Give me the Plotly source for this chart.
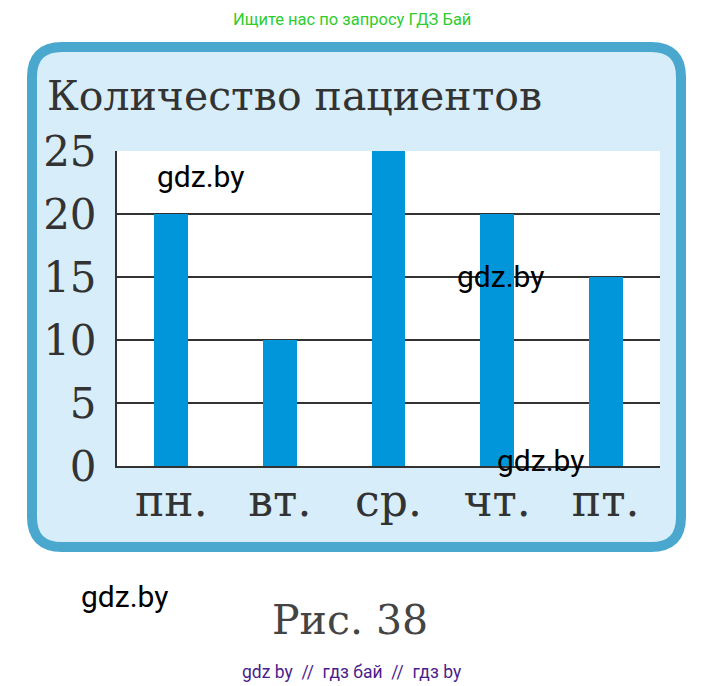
import plotly.graph_objects as go

W, H = 704, 686
OFF = 8  # page body margin shift
def px(x): return (x - OFF) / W
def py(y): return 1 - (y - OFF) / H

days = ["пн.", "вт.", "ср.", "чт.", "пт."]
patients = [20, 10, 25, 20, 15]
y_ticks = [0, 5, 10, 15, 20, 25]
y_tick_labels = ["0", "5", "10", "15", "20", "25"]

title_text = "Количество пациентов"
caption = "Рис. 38"
top_note = "Ищите нас по запросу ГДЗ Бай"
bottom_note = "gdz by  //  гдз бай  //  гдз by"

SERIF = "DejaVu Serif"
DARK = "#333333"

fig = go.Figure()
fig.add_trace(go.Bar(
    x=days, y=patients, width=0.31,
    marker=dict(color="#0096d9", line=dict(width=0)),
    hoverinfo="skip",
))

# rounded frame
x0, x1, y0, y1, r = px(32), px(681), py(547), py(47), 30
rx, ry = r / W, r / H
path = (f"M {x0+rx},{y1} L {x1-rx},{y1} Q {x1},{y1} {x1},{y1-ry} "
        f"L {x1},{y0+ry} Q {x1},{y0} {x1-rx},{y0} L {x0+rx},{y0} "
        f"Q {x0},{y0} {x0},{y0+ry} L {x0},{y1-ry} Q {x0},{y1} {x0+rx},{y1} Z")

shapes = [
    dict(type="path", path=path, xref="paper", yref="paper",
         fillcolor="#d7eefa", line=dict(color="#4aa8cf", width=10), layer="below"),
    dict(type="rect", xref="x domain", yref="y domain", x0=0, x1=1, y0=0, y1=1,
         fillcolor="white", line=dict(width=0), layer="below"),
]

annotations = [
    dict(text=title_text, x=px(45), y=py(96), xref="paper", yref="paper",
         xanchor="left", yanchor="middle", showarrow=False,
         font=dict(family=SERIF, size=41, color=DARK)),
    dict(text=caption, x=px(350), y=py(620), xref="paper", yref="paper",
         xanchor="center", yanchor="middle", showarrow=False,
         font=dict(family=SERIF, size=41, color="#444444")),
    dict(text=top_note, x=px(352), y=py(8), xref="paper", yref="paper",
         xanchor="center", yanchor="top", showarrow=False,
         font=dict(family="Roboto", size=16.5, color="#2ecc2e")),
    dict(text=bottom_note, x=px(352), y=py(672), xref="paper", yref="paper",
         xanchor="center", yanchor="middle", showarrow=False,
         font=dict(family="Roboto", size=17.5, color="#4b1d8c")),
]
for (wx, wy) in [(200, 176), (500, 276), (540, 460), (124, 596)]:
    annotations.append(dict(text="gdz.by", x=px(wx), y=py(wy), xref="paper", yref="paper",
                            xanchor="center", yanchor="middle", showarrow=False,
                            font=dict(family="Roboto", size=30, color="black")))

fig.update_layout(
    width=W, height=H, margin=dict(l=0, r=0, t=0, b=0, autoexpand=False),
    paper_bgcolor="white", plot_bgcolor="white",
    showlegend=False, bargap=0,
    shapes=shapes, annotations=annotations,
    xaxis=dict(domain=[px(117), px(660)], range=[-0.5, 4.5], type="category",
               showline=True, linecolor=DARK, linewidth=2, showgrid=False,
               ticks="", ticklabelstandoff=-5, fixedrange=True, automargin=False,
               tickfont=dict(family=SERIF, size=44, color=DARK)),
    yaxis=dict(domain=[py(466), py(151)], range=[0, 25],
               tickvals=y_ticks, ticktext=y_tick_labels,
               showline=True, linecolor=DARK, linewidth=2,
               showgrid=True, gridcolor=DARK, gridwidth=2, zeroline=False,
               ticks="", ticklabelstandoff=10, fixedrange=True, automargin=False,
               tickfont=dict(family=SERIF, size=42, color=DARK)),
)

fig.write_html("out.html")
